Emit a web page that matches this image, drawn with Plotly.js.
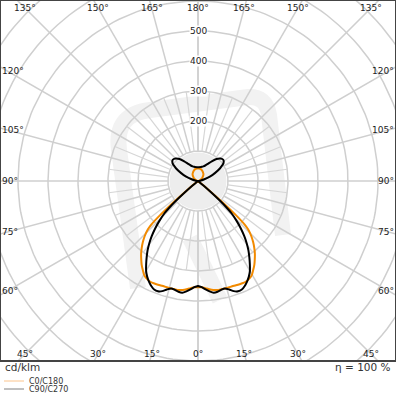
<!DOCTYPE html>
<html><head><meta charset="utf-8">
<script src="https://cdn.plot.ly/plotly-3.0.1.min.js"></script>
<style>html,body{margin:0;padding:0;background:#fff}#chart{width:396px;height:396px}</style>
</head><body><div id="chart"></div>
<script>
// ---- data (gamma angle in degrees, intensity in cd/klm) ----
const gamma   = [0,2,4,6,8,10,12,14,16,18,20,22,24,26,28,30,32,34,36,38,40,42,44,46,47,48,49,50,51,52,55,60,70,80,90,95,100,105,110,115,120,125,130,135,140,145,150,155,160,165,170,175,180];
const c0c180  = [353,354,358,363,367,369,369,369,369,369,370,371,372,371,367,360,348,336,322,308,292,275,256,232,212,170,110,50,15,0,0,0,0,0,0,1,2,4,6,9,12,16,20,24,28,31,33,36,38,40,41,42,42];
const c90c270 = [350,354,362,370,376,375,371,369,376,386,391,390,383,373,361,346,326,306,286,264,240,214,186,156,132,100,60,25,5,0,0,0,0,0,0,4,10,22,42,62,85,104,110,106,96,80,66,57,52,49,47,46,46];
const seriesNames = ['C0/C180', 'C90/C270'];
const ringValues = [100,200,300,400,500,600,700,800,900];
const ringLabelValues = [200,300,400,500];
const angleTicks = [0,15,30,45,60,75,90,105,120,135,150,165,180];
const unitLabel = 'cd/klm';
const effLabel = 'η = 100 %';

// ---- layout geometry ----
const W = 396, H = 396;
const M = {l:1, r:1, t:1, b:36};
const pw = W - M.l - M.r, ph = H - M.t - M.b;
const scale = 0.3;             // px per cd/klm
const cx = M.l + pw/2, cy = 181;
const xr = [(M.l - cx)/scale, (W - M.r - cx)/scale];
const yr = [-(H - M.b - cy)/scale, (cy - M.t)/scale];
const rad = d => d*Math.PI/180;
const px2x = p => (p - M.l)/pw;
const py2y = p => (H - M.b - p)/ph;

const gridColor = '#cfcfcf';
const traces = [];

// rings
{
  const x=[], y=[];
  ringValues.forEach(v => {
    for (let a=0; a<=360; a+=2) { x.push(v*Math.sin(rad(a))); y.push(-v*Math.cos(rad(a))); }
    x.push(null); y.push(null);
  });
  traces.push({x, y, mode:'lines', line:{color:gridColor, width:1.5}, hoverinfo:'skip', showlegend:false});
}
// main spokes (every 15°)
{
  const x=[], y=[];
  for (let a=0; a<=180; a+=15) {
    [-1,1].forEach(s => {
      x.push(s*100*Math.sin(rad(a)), s*1000*Math.sin(rad(a)), null);
      y.push(-100*Math.cos(rad(a)), -1000*Math.cos(rad(a)), null);
    });
  }
  traces.push({x, y, mode:'lines', line:{color:gridColor, width:1.5}, hoverinfo:'skip', showlegend:false});
}
// inner minor spokes
{
  const x=[], y=[];
  for (let a=7.5; a<180; a+=15) {
    [-1,1].forEach(s => {
      x.push(s*100*Math.sin(rad(a)), s*300*Math.sin(rad(a)), null);
      y.push(-100*Math.cos(rad(a)), -300*Math.cos(rad(a)), null);
    });
  }
  traces.push({x, y, mode:'lines', line:{color:'#d6d6d6', width:1.2}, hoverinfo:'skip', showlegend:false});
}

function curve(vals) {
  const x=[], y=[];
  for (let i=gamma.length-1; i>=0; i--) { x.push(-vals[i]*Math.sin(rad(gamma[i]))); y.push(-vals[i]*Math.cos(rad(gamma[i]))); }
  for (let i=0; i<gamma.length; i++) { x.push(vals[i]*Math.sin(rad(gamma[i]))); y.push(-vals[i]*Math.cos(rad(gamma[i]))); }
  return {x, y};
}
const cA = curve(c0c180), cB = curve(c90c270);
traces.push({x:cA.x, y:cA.y, name:seriesNames[0], mode:'lines', line:{color:'#f28a00', width:2, shape:'spline', smoothing:0.6}, showlegend:false});
traces.push({x:cB.x, y:cB.y, name:seriesNames[1], mode:'lines', line:{color:'#000000', width:2, shape:'spline', smoothing:0.6}, showlegend:false});

// annotations
const ann = [];
const fnt = {family:'DejaVu Sans, sans-serif', size:9, color:'#222'};
ringLabelValues.forEach(v => ann.push({x:0, y:v, xref:'x', yref:'y', text:String(v), showarrow:false, font:fnt, bgcolor:'#ffffff', borderpad:0}));

const ins = {x0:8, x1:388, y0:8, y1:354};
angleTicks.forEach(a => {
  const sides = (a===0 || a===180) ? [1] : [-1,1];
  sides.forEach(s => {
    const dx = s*Math.sin(rad(a)), dy = Math.cos(rad(a));
    let t = Infinity, edge = '';
    if (dx < -1e-9) { const tt=(ins.x0-cx)/dx; if (tt<t){t=tt;edge='L';} }
    if (dx >  1e-9) { const tt=(ins.x1-cx)/dx; if (tt<t){t=tt;edge='R';} }
    if (dy < -1e-9) { const tt=(ins.y0-cy)/dy; if (tt<t){t=tt;edge='T';} }
    if (dy >  1e-9) { const tt=(ins.y1-cy)/dy; if (tt<t){t=tt;edge='B';} }
    const px = cx + dx*t, py = cy + dy*t;
    const o = {xref:'paper', yref:'paper', text:a+'°', showarrow:false, font:fnt, yanchor:'middle'};
    if (edge==='L') { o.x = px2x(0); o.xanchor='left'; }
    else if (edge==='R') { o.x = px2x(396); o.xanchor='right'; }
    else { o.x = px2x(px); o.xanchor='center'; }
    o.y = py2y(py);
    ann.push(o);
  });
});

const fnt2 = {family:'DejaVu Sans, sans-serif', size:10.5, color:'#333'};
ann.push({xref:'paper', yref:'paper', x:px2x(3), y:py2y(367), xanchor:'left', yanchor:'middle', text:unitLabel, showarrow:false, font:fnt2});
ann.push({xref:'paper', yref:'paper', x:px2x(393), y:py2y(367), xanchor:'right', yanchor:'middle', text:effLabel, showarrow:false, font:fnt2});
const fnt3 = {family:'DejaVu Sans, sans-serif', size:8, color:'#333'};
ann.push({xref:'paper', yref:'paper', x:px2x(27), y:py2y(381), xanchor:'left', yanchor:'middle', text:seriesNames[0], showarrow:false, font:fnt3});
ann.push({xref:'paper', yref:'paper', x:px2x(27), y:py2y(389), xanchor:'left', yanchor:'middle', text:seriesNames[1], showarrow:false, font:fnt3});

const shapes = [];
// watermark (faint logo)
const wm = '#f2f2f2';
const P = (x,y) => px2x(x).toFixed(4)+','+py2y(y).toFixed(4);
shapes.push({type:'path', xref:'paper', yref:'paper', layer:'below',
  path:'M'+P(138,288)+' L'+P(119,150)+' Q'+P(114,114)+' '+P(150,110)+' L'+P(248,97)+' Q'+P(266,96)+' '+P(269,115)+' L'+P(283,235),
  line:{color:wm, width:16}});
shapes.push({type:'path', xref:'paper', yref:'paper', layer:'below',
  path:'M'+P(190,238)+' L'+P(220,300),
  line:{color:wm, width:16}});
shapes.push({type:'circle', xref:'x', yref:'y', layer:'below', x0:-95, x1:95, y0:-95, y1:95, fillcolor:'#ededed', line:{width:0}});
// legend lines
shapes.push({type:'line', xref:'paper', yref:'paper', x0:px2x(4), x1:px2x(24), y0:py2y(381), y1:py2y(381), line:{color:'#fbc48c', width:1}});
shapes.push({type:'line', xref:'paper', yref:'paper', x0:px2x(4), x1:px2x(24), y0:py2y(389), y1:py2y(389), line:{color:'#808080', width:1}});

const layout = {
  width:W, height:H, margin:M, paper_bgcolor:'#fff', plot_bgcolor:'#fff',
  showlegend:false,
  xaxis:{range:xr, showgrid:false, zeroline:false, showticklabels:false, ticks:'', showline:true, mirror:true, linecolor:'#444', linewidth:2, fixedrange:true},
  yaxis:{range:yr, showgrid:false, zeroline:false, showticklabels:false, ticks:'', showline:true, mirror:true, linecolor:'#444', linewidth:2, fixedrange:true},
  annotations:ann, shapes:shapes
};
Plotly.newPlot('chart', traces, layout, {displayModeBar:false, staticPlot:true});
</script></body></html>
